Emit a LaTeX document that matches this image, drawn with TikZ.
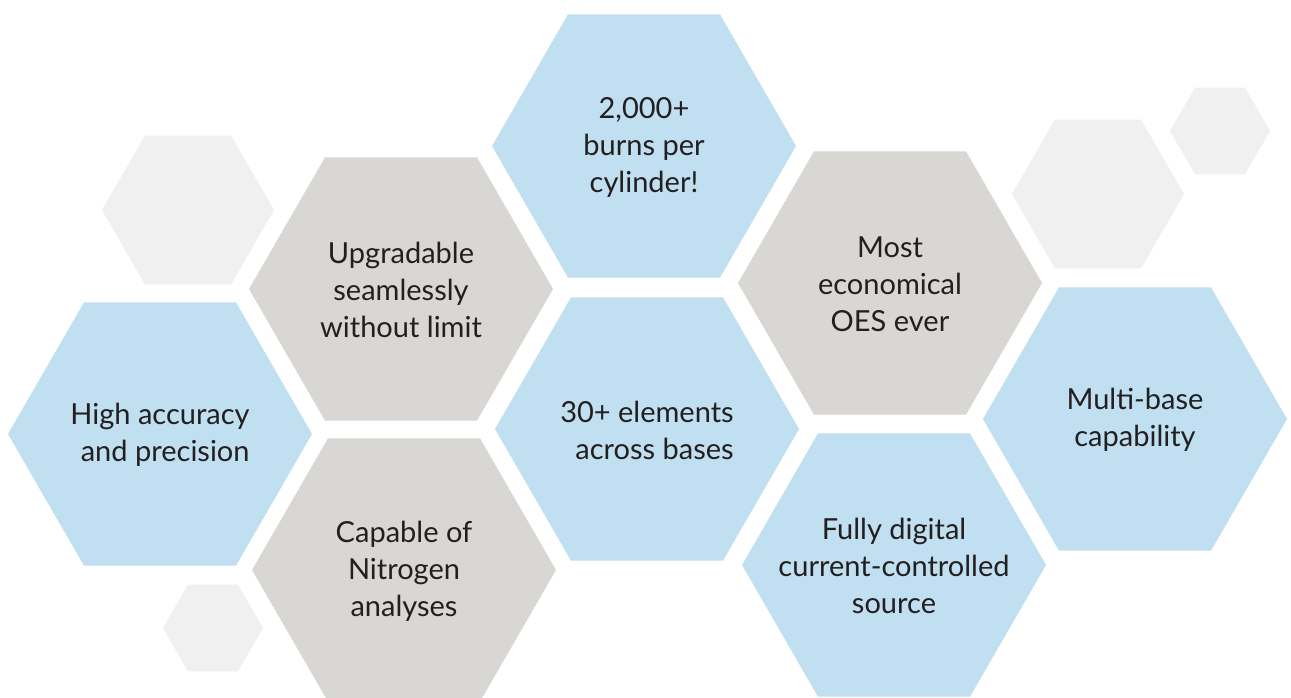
\documentclass[tikz,border=0pt]{standalone}
\usepackage{fontspec}
\setmainfont{Lato}
\usetikzlibrary{shapes.geometric}
\definecolor{hexblue}{HTML}{C0DFF0}
\definecolor{hexgray}{HTML}{D8D7D4}
\definecolor{hexpale}{HTML}{F0F0F0}
\definecolor{textdark}{HTML}{231F20}
\begin{document}
\begin{tikzpicture}[x=1pt,y=-1pt,
  hexbase/.style={regular polygon, regular polygon sides=6, inner sep=0pt, outer sep=0pt, draw=none},
  bluehex/.style={hexbase, fill=hexblue, minimum size=304pt},
  grayhex/.style={hexbase, fill=hexgray, minimum size=304pt},
  palehex/.style={hexbase, fill=hexpale, minimum size=#1},
  hextext/.style={text=textdark, font=\fontsize{29}{37}\selectfont, align=center, inner sep=0pt, yshift=-1pt}
]
\fill[white] (0,0) rectangle (1291,698);
\useasboundingbox (0,0) rectangle (1291,698);

% pale decorative hexagons
\node[palehex=172pt] (p1) at (188,210) {};
\node[palehex=100pt] (p2) at (213,628) {};
\node[palehex=172pt] (p3) at (1098,194) {};
\node[palehex=100pt] (p4) at (1220,131) {};

% main hexagons
\node[bluehex] (h1) at (160,434) {};
\node[grayhex] (h2) at (401,289) {};
\node[grayhex] (h3) at (404,570) {};
\node[bluehex] (h4) at (644,146) {};
\node[bluehex] (h5) at (647,429) {};
\node[grayhex] (h6) at (890,283) {};
\node[bluehex] (h7) at (894,565) {};
\node[bluehex] (h8) at (1135,419) {};

% texts
\node[hextext, align=right] (t1) at (h1.center) {High accuracy\\and precision};
\node[hextext] (t2) at (h2.center) {Upgradable\\seamlessly\\without limit};
\node[hextext] (t3) at (h3.center) {Capable of\\Nitrogen\\analyses};
\node[hextext] (t4) at (h4.center) {2,000+\\burns per\\cylinder!};
\node[hextext, align=right] (t5) at (h5.center) {30+ elements\\across bases};
\node[hextext] (t6) at (h6.center) {Most\\economical\\OES ever};
\node[hextext] (t7) at (h7.center) {Fully digital\\current-controlled\\source};
\node[hextext] (t8) at (h8.center) {Multi-base\\capability};
\end{tikzpicture}
\end{document}
